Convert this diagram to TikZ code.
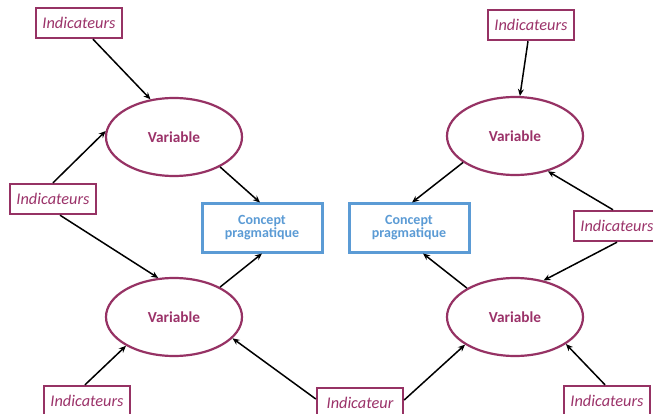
\documentclass[tikz,border=0pt]{standalone}
\usepackage{fontspec}
\setmainfont{Carlito}
\usetikzlibrary{arrows.meta,shapes.geometric}
\definecolor{maroon}{RGB}{150,50,100}
\definecolor{mtext}{RGB}{155,50,105}
\definecolor{cblue}{RGB}{91,155,213}
\tikzset{
  indbox/.style={draw=maroon, line width=2.4pt, minimum width=86pt, minimum height=30pt, inner sep=0pt, fill=white,
    font=\fontsize{16.3}{18}\selectfont\itshape, text=mtext},
  varell/.style={ellipse, draw=maroon, line width=2.2pt, minimum width=136pt, minimum height=78pt, inner sep=0pt,
    font=\fontsize{15.3}{17}\selectfont\bfseries, text=mtext},
  concbox/.style={draw=cblue, line width=3pt, minimum width=120pt, minimum height=48pt, inner sep=0pt, align=center,
    font=\fontsize{14}{11.5}\selectfont\bfseries, text=cblue},
  arr/.style={draw=black, line width=1.5pt, -{Stealth[length=7pt,width=6pt]}}
}
\begin{document}
\begin{tikzpicture}[x=1pt,y=-1pt]
\useasboundingbox (0,0) rectangle (653,414);
\clip (0,0) rectangle (653,414);
\fill[white] (0,0) rectangle (653,414);
% variables
\node[varell] (var1) at (174,137) {Variable};
\node[varell] (var2) at (515,136) {Variable};
\node[varell] (var3) at (174,317) {Variable};
\node[varell] (var4) at (515,317) {Variable};
% concepts
\node[concbox] (conc1) at (262,228) {Concept\\pragmatique};
\node[concbox] (conc2) at (409,228) {Concept\\pragmatique};
% indicators
\node[indbox] (ind1) at (79,23) {Indicateurs};
\node[indbox] (ind2) at (53,199) {Indicateurs};
\node[indbox] (ind3) at (531,25) {Indicateurs};
\node[indbox] (ind4) at (617,226) {Indicateurs};
\node[indbox] (ind5) at (87,401) {Indicateurs};
\node[indbox] (ind6) at (360,403) {Indicateur};
\node[indbox] (ind7) at (607,401) {Indicateurs};
% arrows
\draw[arr] ([xshift=14pt]ind1.south) -- (var1.122);
\draw[arr] (ind2.north) -- (var1.175);
\draw[arr] (var1.327) -- ([xshift=-2pt]conc1.north);
\draw[arr] ([xshift=7pt]ind2.south) -- (var3.112);
\draw[arr] (var3.33) -- (conc1.south);
\draw[arr] ([xshift=-2pt]ind5.north) -- (var3.211);
\draw[arr] ([yshift=4pt]ind6.west) -- (var3.340);
\draw[arr] ([yshift=3pt]ind6.east) -- (var4.209);
\draw[arr] ([xshift=-2pt]ind7.north) -- (var4.332);
\draw[arr] (var4.149) -- ([xshift=14pt]conc2.south);
\draw[arr] (ind4.south) -- (var4.52);
\draw[arr] ([xshift=-4pt]ind4.north) -- (var2.313);
\draw[arr] (var2.207) -- ([xshift=3pt]conc2.north);
\draw[arr] ([xshift=-3pt]ind3.south) -- (var2.83);
\end{tikzpicture}
\end{document}
